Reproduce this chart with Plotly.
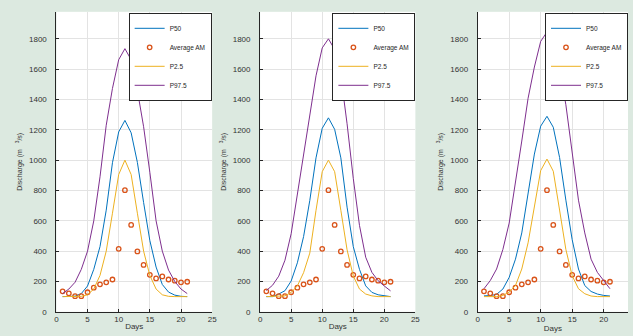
import plotly.graph_objects as go

# ---------------- data ----------------
days = list(range(1, 22))

avg_am = [135, 122, 103, 103, 129, 159, 181, 194, 213, 415, 802, 573, 398, 309, 244, 220, 233, 213, 205, 194, 198]

p50_a = [100, 100, 103, 120, 170, 280, 430, 670, 983, 1186, 1262, 1180, 985, 720, 470, 295, 180, 130, 110, 102, 100]
p25_a = [100, 100, 100, 102, 112, 150, 240, 400, 650, 905, 1000, 905, 650, 400, 240, 150, 112, 102, 100, 100, 100]
p975_a = [120, 150, 195, 280, 400, 600, 890, 1230, 1473, 1662, 1735, 1662, 1460, 1220, 920, 600, 400, 275, 200, 150, 120]

p50_b = [100, 100, 117, 139, 203, 323, 496, 734, 1015, 1210, 1279, 1203, 1015, 690, 430, 280, 171, 128, 112, 104, 100]
p25_b = [100, 100, 100, 105, 128, 171, 258, 387, 669, 924, 1000, 924, 669, 409, 236, 150, 117, 105, 100, 100, 100]
p975_b = [140, 175, 235, 340, 515, 775, 1040, 1300, 1556, 1740, 1800, 1730, 1556, 1240, 880, 570, 360, 260, 205, 170, 138]

p50_c = [105, 107, 115, 150, 227, 347, 520, 780, 1040, 1224, 1289, 1217, 1018, 736, 476, 282, 173, 134, 117, 108, 104]
p25_c = [100, 100, 100, 108, 130, 173, 282, 455, 693, 931, 1007, 927, 671, 411, 238, 152, 119, 104, 100, 100, 100]
p975_c = [152, 206, 282, 411, 585, 845, 1126, 1408, 1614, 1783, 1845, 1783, 1603, 1365, 1061, 736, 520, 347, 260, 206, 152]

x_ticks = [0, 5, 10, 15, 20, 25]
y_ticks = [0, 200, 400, 600, 800, 1000, 1200, 1400, 1600, 1800]

panels = [(p50_a, p25_a, p975_a), (p50_b, p25_b, p975_b), (p50_c, p25_c, p975_c)]

C_P50 = "#0072BD"
C_AM = "#D95319"
C_P25 = "#EDB120"
C_P975 = "#7E2F8E"

fig = go.Figure()
for i, (p50, p25, p975) in enumerate(panels):
    xa = "x" if i == 0 else f"x{i+1}"
    ya = "y" if i == 0 else f"y{i+1}"
    lg = "legend" if i == 0 else f"legend{i+1}"
    fig.add_trace(go.Scatter(x=days, y=p50, mode="lines", name="P50",
                             line=dict(color=C_P50, width=1), xaxis=xa, yaxis=ya, legend=lg))
    fig.add_trace(go.Scatter(x=days, y=avg_am, mode="markers", name="Average AM",
                             marker=dict(symbol="circle-open", size=4.5, color=C_AM,
                                         line=dict(width=1.3, color=C_AM)),
                             xaxis=xa, yaxis=ya, legend=lg))
    fig.add_trace(go.Scatter(x=days, y=p25, mode="lines", name="P2.5",
                             line=dict(color=C_P25, width=1), xaxis=xa, yaxis=ya, legend=lg))
    fig.add_trace(go.Scatter(x=days, y=p975, mode="lines", name="P97.5",
                             line=dict(color=C_P975, width=1), xaxis=xa, yaxis=ya, legend=lg))

W, H = 633, 336
x_domains = [(55 / W, 212.5 / W), (261 / W, 418 / W), (481 / W, 1.0)]
x_ranges = [[0, 25], [0, 25], [0, (633 - 481) / 6.37]]
y_dom = [1 - 316.5 / H, 1 - 12 / H]
legend_x = [212 / W, 418 / W, 1.0]

axis_common = dict(
    showline=True, linecolor="#262626", linewidth=1,
    ticks="inside", ticklen=3, tickcolor="#262626", tickwidth=1,
    showgrid=True, gridcolor="#e3e3e3", gridwidth=1, zeroline=False,
    tickfont=dict(family="Liberation Sans, Arial, sans-serif", size=8, color="#333333"),
)

layout = dict(
    width=W, height=H,
    margin=dict(l=0, r=0, t=0, b=0),
    paper_bgcolor="#dce9e0", plot_bgcolor="white",
    font=dict(family="Liberation Sans, Arial, sans-serif", color="#333333"),
)

for i in range(3):
    xk = "xaxis" if i == 0 else f"xaxis{i+1}"
    yk = "yaxis" if i == 0 else f"yaxis{i+1}"
    ya = "y" if i == 0 else f"y{i+1}"
    xa = "x" if i == 0 else f"x{i+1}"
    lk = "legend" if i == 0 else f"legend{i+1}"
    layout[xk] = dict(axis_common, domain=list(x_domains[i]), range=x_ranges[i], anchor=ya,
                      tickvals=x_ticks,
                      title=dict(text="Days", font=dict(size=8, color="#333333"), standoff=0))
    layout[yk] = dict(axis_common, domain=y_dom, range=[0, 1978], anchor=xa,
                      tickvals=y_ticks, ticklabelstandoff=7,
                      title=dict(text="Discharge (m&nbsp;&nbsp;&nbsp;<sup>3</sup>/s)",
                                 font=dict(size=7, color="#333333"), standoff=5))
    layout[lk] = dict(x=legend_x[i], y=1 - 13 / H, xanchor="right", yanchor="top",
                      bgcolor="white", bordercolor="#262626", borderwidth=1,
                      font=dict(size=6.5, color="#262626"), tracegroupgap=0, itemwidth=30)

fig.update_layout(**layout)
fig.write_html("out.html",
               config={"displayModeBar": False},
               post_script="document.body.style.margin='0';document.body.style.overflow='hidden';")
